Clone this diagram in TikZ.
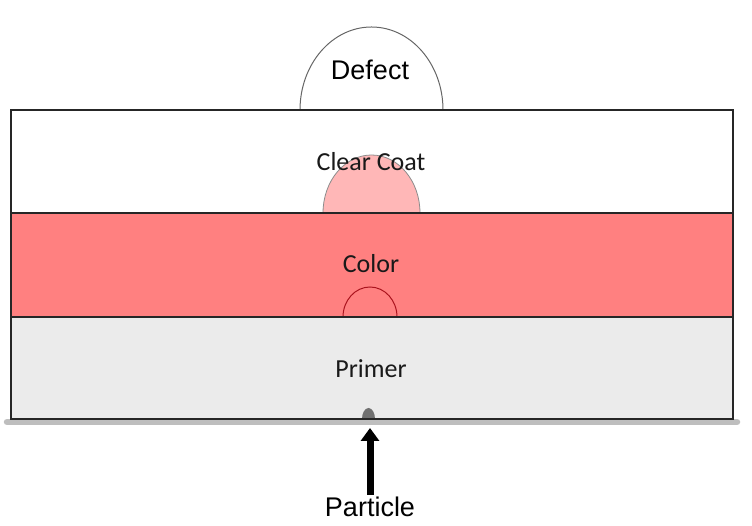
\documentclass[tikz,border=0pt]{standalone}
\usepackage{xcolor}
\usepackage{fontspec}
\setmainfont{Liberation Sans}
\newfontfamily\calibri{Carlito}
\usetikzlibrary{arrows.meta}
\definecolor{colorcoat}{RGB}{255,128,128}
\definecolor{clearbump}{RGB}{255,183,183}
\definecolor{primer}{RGB}{235,235,235}
\definecolor{substrate}{RGB}{190,190,190}
\definecolor{particlegray}{RGB}{112,112,112}
\definecolor{bumpred}{RGB}{170,20,30}
\begin{document}
\begin{tikzpicture}[x=1pt,y=1pt]
                \useasboundingbox (0,0) rectangle (752,526);
                \tikzstyle{layer}=[font=\calibri\fontsize{26}{30}\selectfont,text=black!90]
                \tikzstyle{label}=[font=\fontsize{27}{31}\selectfont,inner sep=2pt]
                \newcommand\bump[5]{\draw[#1] (#5-#3,#2) arc[start angle=180,end angle=0,x radius=#3,y radius=#4] -- cycle;}
                \fill[white] (11,313) rectangle (733,416);
                \fill[colorcoat] (11,209) rectangle (733,313);
                \fill[primer] (11,107) rectangle (733,209);
                \draw[substrate,line width=6.5pt,line cap=round] (7,104) -- (737,104);
                \bump{draw=black!60,fill=white,line width=1pt}{416}{71.5}{83}{371.5}
                \bump{draw=black!45,fill=clearbump,line width=0.8pt}{313}{48.5}{58}{371.5}
                \bump{draw=bumpred,line width=1pt}{209}{27}{30}{370}
                \fill[particlegray] (362,107) arc[start angle=180,end angle=0,x radius=6.5,y radius=11] -- cycle;
                \draw[black!85,line width=1.5pt] (11,107) rectangle (733,416) (11,313) -- (733,313) (11,209) -- (733,209);
                \node[label] (defect) at (370,456) {Defect};
                \node[layer] (clear) at (371,364) {Clear Coat};
                \node[layer] (color) at (371,262) {Color};
                \node[layer] (primer) at (371,157) {Primer};
                \node[label] (particle) at (370,19) {Particle};
                \coordinate (tip) at (370,98);
                \draw[line width=7pt,-{Triangle[width=18pt,length=13pt]}] (particle.north) -- (tip);
            \end{tikzpicture}
\end{document}
